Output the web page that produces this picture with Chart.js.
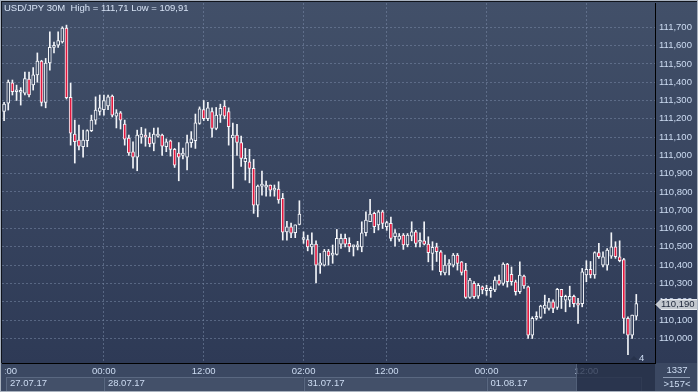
<!DOCTYPE html>
<html>
<head>
<meta charset="utf-8">
<script src="https://cdn.jsdelivr.net/npm/chart.js@4.4.1/dist/chart.umd.min.js"></script>
<style>
  html, body { margin: 0; padding: 0; background: #2f3b56; overflow: hidden; }
  canvas { display: block; }
</style>
</head>
<body>
<canvas id="chart" width="698" height="392"></canvas>
<script>
// USD/JPY 30M candles, 27.07.17 12:00 .. 01.08.17 18:00
const days = ['27.07.17', '28.07.17', '31.07.17', '01.08.17'];
const dayFirstHour = [12, 0, 2, 0];
const dayBars = [24, 48, 44, 37];
const emptySlots = 4;

const open = [
  111.24, 111.286, 111.397, 111.348, 111.345, 111.34, 111.417, 111.385, 111.44, 111.516,
  111.29, 111.505, 111.59, 111.603, 111.62, 111.696, 111.318, 111.117, 111.084, 111.047,
  111.08, 111.135, 111.193, 111.24, 111.25, 111.27, 111.324, 111.215, 111.233, 111.171,
  111.095, 111.02, 110.99, 111.10, 111.11, 111.10, 111.066, 111.105, 111.111, 111.047,
  111.08, 111.033, 111.013, 111.0, 110.99, 111.07, 111.08, 111.175, 111.25, 111.20,
  111.24, 111.148, 111.22, 111.27, 111.24, 111.095, 111.111, 111.07, 110.965, 110.965,
  110.929, 110.728, 110.832, 110.826, 110.838, 110.81, 110.816, 110.765, 110.582, 110.61,
  110.577, 110.623, 110.54, 110.54, 110.50, 110.515, 110.40, 110.40, 110.477, 110.455,
  110.459, 110.515, 110.546, 110.519, 110.50, 110.50, 110.50, 110.577, 110.637, 110.683,
  110.62, 110.692, 110.61, 110.628, 110.555, 110.541, 110.564, 110.51, 110.559, 110.582,
  110.525, 110.533, 110.515, 110.464, 110.50, 110.473, 110.358, 110.40, 110.40, 110.455,
  110.418, 110.373, 110.224, 110.30, 110.23, 110.282, 110.26, 110.26, 110.264, 110.318,
  110.30, 110.406, 110.35, 110.309, 110.255, 110.34, 110.282, 110.017, 110.109, 110.114,
  110.163, 110.163, 110.20, 110.169, 110.268, 110.209, 110.209, 110.23, 110.19, 110.19,
  110.346, 110.377, 110.346, 110.468, 110.40, 110.40, 110.449, 110.50, 110.446, 110.431,
  110.109, 110.017, 110.121
];
const high = [
  111.29, 111.412, 111.412, 111.384, 111.37, 111.455, 111.455, 111.48, 111.56, 111.52,
  111.53, 111.675, 111.62, 111.675, 111.703, 111.712, 111.395, 111.193, 111.165, 111.138,
  111.14, 111.22, 111.32, 111.33, 111.33, 111.33, 111.33, 111.25, 111.24, 111.193,
  111.111, 111.074, 111.138, 111.153, 111.145, 111.124, 111.149, 111.15, 111.117, 111.09,
  111.084, 111.038, 111.07, 111.04, 111.111, 111.13, 111.226, 111.265, 111.30, 111.29,
  111.26, 111.262, 111.28, 111.30, 111.26, 111.176, 111.17, 111.106, 111.038, 111.033,
  110.978, 110.838, 110.914, 110.86, 110.838, 110.838, 110.856, 110.792, 110.64, 110.63,
  110.62, 110.752, 110.582, 110.564, 110.577, 110.533, 110.464, 110.486, 110.486, 110.51,
  110.595, 110.57, 110.57, 110.55, 110.51, 110.53, 110.637, 110.692, 110.76, 110.69,
  110.70, 110.70, 110.64, 110.663, 110.595, 110.573, 110.573, 110.573, 110.637, 110.59,
  110.577, 110.637, 110.555, 110.528, 110.52, 110.48, 110.455, 110.43, 110.464, 110.464,
  110.42, 110.41, 110.328, 110.31, 110.30, 110.286, 110.29, 110.282, 110.336, 110.345,
  110.413, 110.41, 110.39, 110.318, 110.418, 110.345, 110.285, 110.118, 110.145, 110.181,
  110.236, 110.218, 110.21, 110.273, 110.268, 110.236, 110.285, 110.236, 110.218, 110.382,
  110.424, 110.42, 110.473, 110.519, 110.473, 110.49, 110.577, 110.528, 110.533, 110.437,
  110.118, 110.127, 110.24
];
const low = [
  111.19, 111.248, 111.33, 111.30, 111.275, 111.33, 111.32, 111.357, 111.40, 111.27,
  111.26, 111.466, 111.56, 111.59, 111.614, 111.308, 111.056, 110.958, 111.03, 110.99,
  111.047, 111.13, 111.17, 111.22, 111.22, 111.25, 111.21, 111.15, 111.144, 111.056,
  111.0, 110.93, 110.916, 111.066, 111.05, 111.047, 111.025, 111.10, 111.0, 111.02,
  110.996, 110.934, 110.861, 110.98, 110.92, 111.044, 111.038, 111.17, 111.19, 111.19,
  111.10, 111.14, 111.18, 111.20, 111.056, 110.82, 111.0, 110.94, 110.865, 110.85,
  110.683, 110.664, 110.783, 110.777, 110.777, 110.777, 110.738, 110.537, 110.537, 110.55,
  110.55, 110.62, 110.519, 110.478, 110.46, 110.303, 110.355, 110.395, 110.40, 110.41,
  110.455, 110.492, 110.50, 110.473, 110.45, 110.483, 110.473, 110.56, 110.637, 110.577,
  110.592, 110.60, 110.59, 110.533, 110.504, 110.53, 110.486, 110.50, 110.533, 110.50,
  110.50, 110.51, 110.418, 110.373, 110.42, 110.346, 110.346, 110.346, 110.39, 110.373,
  110.346, 110.218, 110.218, 110.218, 110.218, 110.243, 110.235, 110.224, 110.255, 110.29,
  110.29, 110.28, 110.29, 110.236, 110.245, 110.273, 109.999, 109.999, 110.10, 110.109,
  110.136, 110.154, 110.14, 110.158, 110.163, 110.145, 110.172, 110.172, 110.081, 110.172,
  110.309, 110.33, 110.328, 110.437, 110.39, 110.373, 110.437, 110.437, 110.418, 110.027,
  109.91, 109.999, 110.10
];
const close = [
  111.28, 111.401, 111.348, 111.357, 111.352, 111.42, 111.33, 111.44, 111.516, 111.29,
  111.505, 111.59, 111.60, 111.627, 111.696, 111.315, 111.122, 111.075, 111.05, 111.084,
  111.135, 111.193, 111.248, 111.26, 111.30, 111.32, 111.22, 111.233, 111.193, 111.089,
  111.013, 110.99, 111.111, 111.117, 111.10, 111.062, 111.117, 111.117, 111.051, 111.074,
  111.033, 110.947, 110.99, 111.013, 111.07, 111.09, 111.178, 111.255, 111.20, 111.26,
  111.148, 111.22, 111.257, 111.215, 111.157, 111.111, 111.071, 110.984, 110.984, 110.929,
  110.728, 110.832, 110.838, 110.838, 110.81, 110.816, 110.756, 110.58, 110.61, 110.575,
  110.62, 110.679, 110.546, 110.50, 110.515, 110.40, 110.413, 110.477, 110.45, 110.464,
  110.546, 110.546, 110.515, 110.50, 110.505, 110.505, 110.577, 110.646, 110.679, 110.61,
  110.692, 110.628, 110.632, 110.546, 110.577, 110.559, 110.51, 110.564, 110.582, 110.519,
  110.533, 110.515, 110.468, 110.497, 110.473, 110.364, 110.40, 110.41, 110.455, 110.41,
  110.36, 110.224, 110.318, 110.227, 110.29, 110.264, 110.273, 110.273, 110.318, 110.296,
  110.406, 110.309, 110.309, 110.255, 110.345, 110.286, 110.017, 110.109, 110.118, 110.176,
  110.181, 110.20, 110.163, 110.268, 110.227, 110.23, 110.23, 110.19, 110.181, 110.364,
  110.377, 110.346, 110.468, 110.446, 110.446, 110.482, 110.50, 110.446, 110.424, 110.109,
  110.017, 110.127, 110.19
];

const yTicks = [110.0, 110.1, 110.2, 110.3, 110.4, 110.5, 110.6, 110.7, 110.8, 110.9,
  111.0, 111.1, 111.2, 111.3, 111.4, 111.5, 111.6, 111.7];
const timeTicks = ['27.07.17 12:00', '28.07.17 00:00', '28.07.17 12:00', '31.07.17 02:00',
  '31.07.17 12:00', '01.08.17 00:00', '01.08.17 12:00'];

// category labels, one per 30 minute bar, plus the empty slots on the right
const categories = [];
days.forEach((d, k) => {
  for (let j = 0; j < dayBars[k]; j++) {
    const m = dayFirstHour[k] * 60 + j * 30;
    categories.push(d + ' ' + String(Math.floor(m / 60)).padStart(2, '0') + ':' + (m % 60 ? '30' : '00'));
  }
});
for (let j = 0; j < emptySlots; j++) categories.push('');

const TXT = '#cddcf2';
const RED = '#e3173e';
const WHITE = '#f2f4f8';
const GRID = 'rgba(120,136,165,0.55)';
const FONT = { family: '"Liberation Sans", Arial, sans-serif', size: 9.5 };
const fmt = v => v.toFixed(3).replace('.', ',');

let bgGrad = null;
function getBg(chart) {
  if (!bgGrad) {
    bgGrad = chart.ctx.createLinearGradient(0, 0, 0, 363);
    bgGrad.addColorStop(0, '#425069');
    bgGrad.addColorStop(1, '#2e3a56');
  }
  return bgGrad;
}

const chrome = {
  id: 'chrome',
  beforeDraw(chart) {
    const { ctx, chartArea: a, width: W, height: H } = chart;
    const xs = chart.scales.x;
    ctx.save();
    ctx.fillStyle = getBg(chart);
    ctx.fillRect(0, 0, W, a.bottom);
    ctx.fillStyle = '#3b4862';
    ctx.fillRect(0, a.bottom, W, H - a.bottom);
    // date boxes
    let start = 0;
    ctx.font = '9.5px "Liberation Sans", Arial, sans-serif';
    ctx.textBaseline = 'middle';
    days.forEach((d, k) => {
      const x0 = k === 0 ? a.left + 4 : xs.getPixelForValue(start);
      start += dayBars[k];
      const x1 = xs.getPixelForValue(start);
      ctx.fillStyle = '#435069';
      ctx.fillRect(x0, 377, x1 - x0, 14);
      ctx.strokeStyle = '#5a6881';
      ctx.lineWidth = 1;
      ctx.strokeRect(Math.round(x0) + 0.5, 377.5, Math.round(x1 - x0), 14);
      ctx.fillStyle = TXT;
      ctx.fillText(d, x0 + 4, 383.5);
    });
    ctx.restore();
  },
  afterDraw(chart) {
    const { ctx, chartArea: a, width: W, height: H } = chart;
    const xs = chart.scales.x, ys = chart.scales.y;
    ctx.save();
    ctx.font = '9.5px "Liberation Sans", Arial, sans-serif';
    ctx.textBaseline = 'middle';
    // clipped first time label (only its minutes show)
    ctx.save();
    ctx.beginPath();
    ctx.rect(a.left + 3, a.bottom, 100, 12);
    ctx.clip();
    ctx.fillStyle = TXT;
    ctx.textAlign = 'center';
    ctx.fillText(timeTicks[0].slice(9), xs.getPixelForValue(0) + 1, 371.5);
    ctx.restore();
    // darker scroll window in the time band
    ctx.fillStyle = 'rgba(36,46,70,0.78)';
    ctx.fillRect(576, a.bottom + 1, a.right - 576, H - a.bottom - 2);
    ctx.fillStyle = 'rgba(110,125,150,0.6)';
    ctx.fillRect(576, a.bottom + 1, 1, H - a.bottom - 2);
    // title
    ctx.textAlign = 'left';
    ctx.fillStyle = '#d6e2f4';
    ctx.fillText('USD/JPY 30M  High = 111,71 Low = 109,91', 4, 8);
    // shift marker
    ctx.fillStyle = '#27324b';
    ctx.beginPath();
    ctx.moveTo(630, 360); ctx.lineTo(634, 356); ctx.lineTo(638, 360); ctx.closePath();
    ctx.fill();
    ctx.fillStyle = TXT;
    ctx.fillText(String(emptySlots), 639, 358.5);
    // bottom-right cell
    ctx.textAlign = 'center';
    ctx.fillText('1337', 677, 370.5);
    ctx.fillText('>' + categories.length + '<', 677, 384);
    ctx.fillStyle = '#8d9bb2';
    ctx.fillRect(663, 377, 27, 1);
    // last price tag
    const last = close[close.length - 1];
    const py = Math.round(ys.getPixelForValue(last)) + 0.5;
    ctx.beginPath();
    ctx.moveTo(656, py);
    ctx.lineTo(661, py - 5);
    ctx.lineTo(698, py - 5);
    ctx.lineTo(698, py + 5);
    ctx.lineTo(661, py + 5);
    ctx.closePath();
    ctx.fillStyle = '#c3c8cf';
    ctx.fill();
    ctx.strokeStyle = '#e6eaf0';
    ctx.lineWidth = 1;
    ctx.stroke();
    ctx.fillStyle = '#1c2538';
    ctx.textAlign = 'left';
    ctx.fillText(fmt(last), 661, py);
    // frame
    ctx.strokeStyle = '#a9b2bf';
    ctx.strokeRect(0.5, 0.5, W - 1, H - 1);
    ctx.strokeStyle = '#10141c';
    ctx.beginPath();
    ctx.moveTo(1, 1.5); ctx.lineTo(W - 1, 1.5);
    ctx.moveTo(1.5, 1); ctx.lineTo(1.5, a.bottom);
    ctx.stroke();
    ctx.restore();
  }
};

new Chart(document.getElementById('chart'), {
  type: 'bar',
  data: {
    labels: categories,
    datasets: [
      {
        data: low.map((l, i) => [l, high[i]]),
        backgroundColor: WHITE,
        barThickness: 1,
        grouped: false,
        order: 2
      },
      {
        data: open.map((o, i) => [o, close[i]]),
        backgroundColor: c => close[c.dataIndex] < open[c.dataIndex] ? RED : getBg(c.chart),
        borderColor: WHITE,
        borderWidth: 1,
        borderSkipped: false,
        barThickness: 3,
        minBarLength: 2,
        grouped: false,
        order: 1
      }
    ]
  },
  options: {
    responsive: false,
    animation: false,
    devicePixelRatio: 1,
    layout: { padding: { left: 2, top: 3, right: 0, bottom: 0 } },
    plugins: { legend: { display: false }, tooltip: { enabled: false } },
    scales: {
      x: {
        type: 'category',
        offset: true,
        grid: {
          offset: false,
          drawTicks: false,
          color: c => (c.index > 0 && timeTicks.includes(categories[c.index])) ? GRID : 'transparent'
        },
        border: { color: '#000', width: 1, dash: [2, 2] },
        ticks: {
          autoSkip: false,
          maxRotation: 0,
          padding: 3,
          color: TXT,
          font: FONT,
          callback: (v, i) => (i > 0 && timeTicks.includes(categories[i])) ? categories[i].slice(9) : ''
        },
        afterFit(s) { s.height = 29; s.paddingLeft = 0; s.paddingRight = 0; }
      },
      y: {
        position: 'right',
        min: 109.865,
        max: 111.833,
        grid: { drawTicks: false, color: GRID },
        border: { color: '#000', width: 1, dash: [2, 2] },
        afterBuildTicks(s) { s.ticks = yTicks.map(v => ({ value: v })); },
        ticks: { padding: 4, color: TXT, font: FONT, callback: v => fmt(v) },
        afterFit(s) { s.width = 43; s.paddingTop = 0; s.paddingBottom = 0; }
      }
    }
  },
  plugins: [chrome]
});
</script>
</body>
</html>
